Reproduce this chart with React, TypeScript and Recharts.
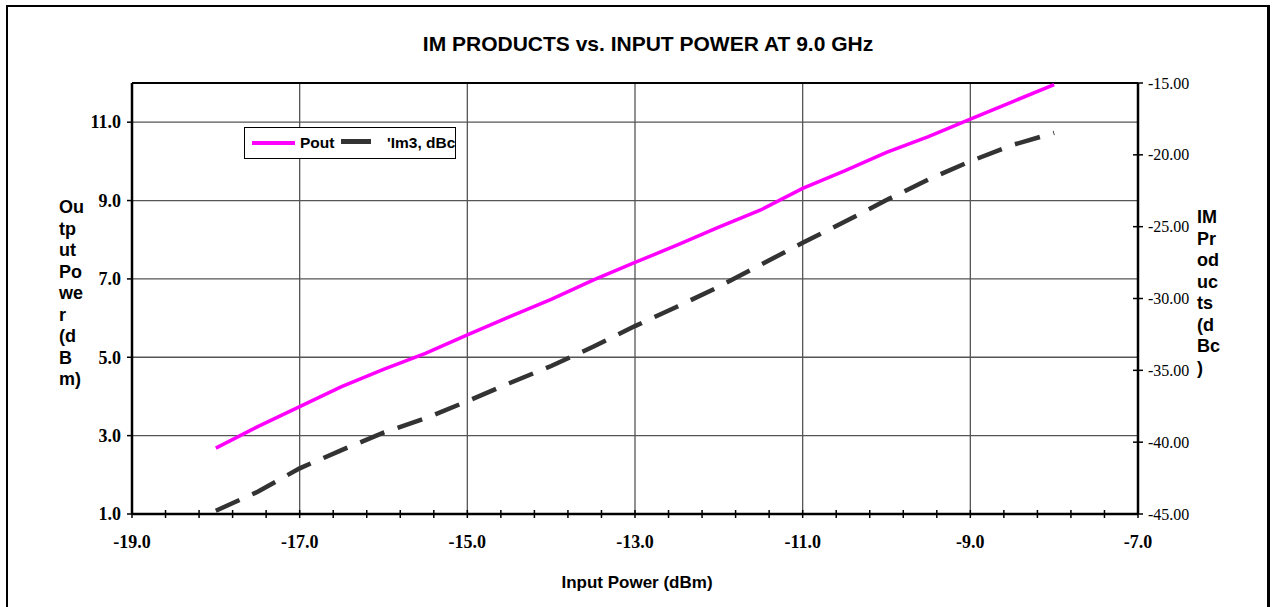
import { LineChart, Line, XAxis, YAxis, CartesianGrid, ReferenceLine, Legend } from "recharts";

const SANS = "'Liberation Sans', Arial, sans-serif";
const SERIF = "'Liberation Serif', 'Times New Roman', serif";

// input power, dBm
const inputPower = [-18, -17.5, -17, -16.5, -16, -15.5, -15, -14.5, -14, -13.5, -13, -12.5, -12, -11.5, -11, -10.5, -10, -9.5, -9, -8.5, -8];
// output power, dBm (left axis)
const pout = [2.68, 3.23, 3.74, 4.25, 4.69, 5.1, 5.57, 6.03, 6.48, 6.97, 7.42, 7.86, 8.32, 8.76, 9.31, 9.76, 10.23, 10.63, 11.08, 11.52, 11.96];
// third order IM, dBc (right axis)
const im3 = [-44.77, -43.45, -41.82, -40.55, -39.34, -38.34, -37.15, -35.9, -34.7, -33.36, -31.92, -30.57, -29.18, -27.65, -26.12, -24.66, -23.15, -21.71, -20.45, -19.32, -18.47];

const SERIES_NAMES = ["Pout", "'Im3, dBc"];

const X_LABELS = [-19, -17, -15, -13, -11, -9, -7];
const X_GRID = [-17, -15, -13, -11, -9];
const LEFT_TICKS = [1, 3, 5, 7, 9, 11];
const LEFT_GRID = [3, 5, 7, 9, 11];
const RIGHT_TICKS = [-45, -40, -35, -30, -25, -20, -15];

// minor ticks every 0.4 dB
const X_TICKS: number[] = [];
for (let i = 0; i <= 30; i++) X_TICKS.push(Math.round((-19 + i * 0.4) * 10) / 10);

const LEFT_TITLE = ["Ou", "tp", "ut", "Po", "we", "r", "(d", "B", "m)"];
const RIGHT_TITLE = ["IM", "Pr", "od", "uc", "ts", "(d", "Bc", ")"];

const data = inputPower.map((x, i) => ({ x, pout: pout[i], im3: im3[i] }));

function XTick({ x, y, payload }: any) {
  const v = payload.value;
  const major = X_LABELS.some((m) => Math.abs(m - v) < 1e-6);
  return (
    <g>
      <line x1={x} x2={x} y1={y - 4} y2={y + 4} stroke="#000" strokeWidth={1.5} />
      {major && (
        <text x={x} y={y + 34} textAnchor="middle" fontFamily={SERIF} fontWeight="bold" fontSize={18} fill="#000">
          {v.toFixed(1)}
        </text>
      )}
    </g>
  );
}

function LeftTick({ x, y, payload }: any) {
  return (
    <g>
      <line x1={x - 5} x2={x} y1={y} y2={y} stroke="#000" strokeWidth={1.5} />
      <text x={x - 11} y={y} dy="0.35em" textAnchor="end" fontFamily={SERIF} fontWeight="bold" fontSize={18} fill="#000">
        {payload.value.toFixed(1)}
      </text>
    </g>
  );
}

function RightTick({ x, y, payload }: any) {
  return (
    <g>
      <line x1={x - 5} x2={x + 5} y1={y} y2={y} stroke="#000" strokeWidth={1.5} />
      <text x={x + 10} y={y} dy="0.35em" textAnchor="start" fontFamily={SERIF} fontSize={16} fill="#000">
        {payload.value.toFixed(2)}
      </text>
    </g>
  );
}

const SWATCH_LEFT = [7, 96];
const SWATCH_W = [43, 30];
const TEXT_LEFT = [55, 142];

function LegendBox({ payload }: any) {
  const items = [...(payload || [])].sort(
    (a: any, b: any) => SERIES_NAMES.indexOf(a.value) - SERIES_NAMES.indexOf(b.value)
  );
  return (
    <div
      style={{
        width: 212,
        height: 32,
        boxSizing: "border-box",
        border: "1px solid #000",
        background: "#fff",
        position: "relative",
        fontFamily: SANS,
        fontWeight: "bold",
        fontSize: 15.5,
        color: "#000",
      }}
    >
      {items.map((p: any, i: number) => (
        <div key={i}>
          <div
            style={{
              position: "absolute",
              left: SWATCH_LEFT[i],
              top: i === 0 ? 13 : 11,
              width: SWATCH_W[i],
              height: i === 0 ? 4 : 5,
              background: p.color,
            }}
          />
          <div style={{ position: "absolute", left: TEXT_LEFT[i], top: 5, whiteSpace: "nowrap", lineHeight: "20px" }}>
            {p.value}
          </div>
        </div>
      ))}
    </div>
  );
}

export default function App() {
  return (
    <div style={{ position: "fixed", left: 0, top: 0, width: 1272, height: 607, overflow: "hidden", background: "#fff" }}>
      <LineChart width={1272} height={607} data={data} margin={{ top: 83, left: 72, right: 74, bottom: 33 }}>
        <CartesianGrid
          yAxisId="left"
          horizontalValues={LEFT_GRID}
          verticalValues={X_GRID}
          stroke="#555"
          strokeWidth={1.3}
          fill="none"
        />
        <XAxis
          type="number"
          dataKey="x"
          domain={[-19, -7]}
          ticks={X_TICKS}
          interval={0}
          tickSize={0}
          tickMargin={0}
          tickLine={false}
          tick={<XTick />}
          axisLine={{ stroke: "#000", strokeWidth: 2.5 }}
          height={60}
          allowDataOverflow
        />
        <YAxis
          yAxisId="left"
          orientation="left"
          type="number"
          domain={[1, 12]}
          ticks={LEFT_TICKS}
          interval={0}
          tickSize={0}
          tickMargin={0}
          tickLine={false}
          tick={<LeftTick />}
          axisLine={{ stroke: "#000", strokeWidth: 2.5 }}
          width={60}
          allowDataOverflow
        />
        <YAxis
          yAxisId="right"
          orientation="right"
          type="number"
          domain={[-45, -15]}
          ticks={RIGHT_TICKS}
          interval={0}
          tickSize={0}
          tickMargin={0}
          tickLine={false}
          tick={<RightTick />}
          axisLine={{ stroke: "#000", strokeWidth: 2.5 }}
          width={60}
          allowDataOverflow
        />
        <ReferenceLine yAxisId="left" y={12} stroke="#000" strokeWidth={2} />
        <Line
          yAxisId="left"
          type="linear"
          dataKey="pout"
          name={SERIES_NAMES[0]}
          stroke="#FF00FF"
          strokeWidth={3.5}
          dot={false}
          isAnimationActive={false}
        />
        <Line
          yAxisId="right"
          type="linear"
          dataKey="im3"
          name={SERIES_NAMES[1]}
          stroke="#333333"
          strokeWidth={4.5}
          strokeDasharray="26 14"
          dot={false}
          isAnimationActive={false}
        />
        <Legend
          layout="horizontal"
          verticalAlign="middle"
          align="center"
          content={<LegendBox />}
          wrapperStyle={{ left: 244, top: 127, width: 212, height: 32 }}
        />
      </LineChart>
      <svg width={1272} height={607} style={{ position: "absolute", left: 0, top: 0, pointerEvents: "none" }}>
        <rect x={7} y={6} width={1261} height={700} fill="none" stroke="#000" strokeWidth={2} />
        <line x1={1268.5} x2={1268.5} y1={5} y2={607} stroke="#000" strokeWidth={3} />
        <text x={648} y={51} textAnchor="middle" fontFamily={SANS} fontWeight="bold" fontSize={21} fill="#000">
          IM PRODUCTS vs. INPUT POWER AT 9.0 GHz
        </text>
        <text x={637} y={588} textAnchor="middle" fontFamily={SANS} fontWeight="bold" fontSize={17} fill="#000">
          Input Power (dBm)
        </text>
        {LEFT_TITLE.map((s, i) => (
          <text key={s + i} x={59} y={213 + i * 21.5} fontFamily={SANS} fontWeight="bold" fontSize={18} fill="#000">
            {s}
          </text>
        ))}
        {RIGHT_TITLE.map((s, i) => (
          <text key={s + i} x={1197} y={223 + i * 21.5} fontFamily={SANS} fontWeight="bold" fontSize={18} fill="#000">
            {s}
          </text>
        ))}
      </svg>
    </div>
  );
}
